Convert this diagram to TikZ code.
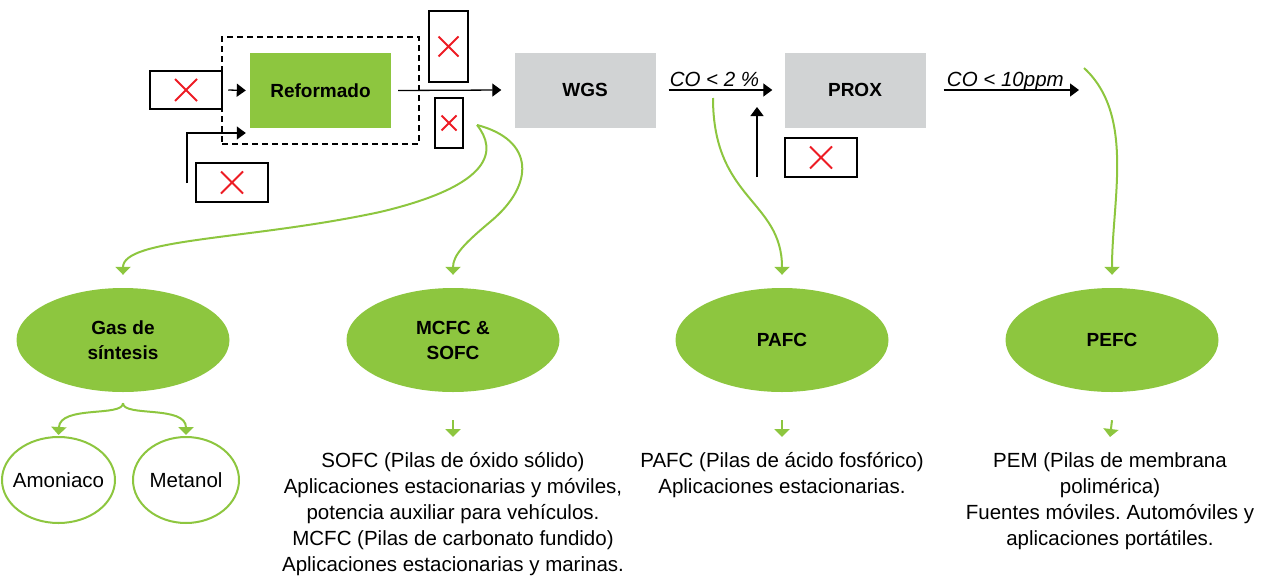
\documentclass[tikz,border=0pt]{standalone}
\usepackage{fontspec}
\setmainfont{Liberation Sans}
\usetikzlibrary{shapes.geometric,arrows.meta,positioning}
\definecolor{verde}{HTML}{8DC63F}
\definecolor{gris}{HTML}{D1D3D4}
\definecolor{rojo}{HTML}{ED1C24}
\frenchspacing

\begin{document}
\begin{tikzpicture}[
    x=1pt, y=-1pt, % pixel-like units, y going down
    flecha/.style={draw, line width=1.3pt, -{Triangle[length=9pt,width=13pt]}},
    verdeflecha/.style={draw=verde, line width=2pt, -{Triangle[length=8pt,width=15pt]}},
    proceso/.style={rectangle, fill=#1, minimum width=141pt, minimum height=75pt,
        inner sep=0pt, font=\fontsize{19}{23}\selectfont\bfseries},
    cruz/.style={draw, line width=2.5pt, inner sep=0pt, path picture={
        \draw[rojo, line width=2pt]
            ([shift={(-#1pt,-#1pt)}]path picture bounding box.center) --
            ([shift={(#1pt,#1pt)}]path picture bounding box.center)
            ([shift={(-#1pt,#1pt)}]path picture bounding box.center) --
            ([shift={(#1pt,-#1pt)}]path picture bounding box.center);}},
    pila/.style={ellipse, fill=verde, minimum width=213pt, minimum height=104pt,
        inner sep=0pt, align=center, font=\fontsize{19}{25}\selectfont\bfseries},
    producto/.style={ellipse, draw=verde, line width=2pt, fill=white, minimum height=86pt,
        inner ysep=0pt, inner xsep=-7pt, font=\fontsize{20.5}{25}\selectfont},
    texto/.style={anchor=north, inner sep=0pt, align=center, font=\fontsize{20.5}{26}\selectfont},
    etiqueta/.style={above=3pt, inner sep=0pt, text depth=0pt, font=\fontsize{20.5}{24}\selectfont\itshape}
]
\useasboundingbox (0,0) rectangle (1268,581);

% Process line
\node (zona) [draw, line width=1.3pt, dash pattern=on 6pt off 4pt, minimum width=197pt,
    minimum height=107pt] at (320.5,90.5) {};
\node (reform) [proceso=verde] at (320.5,90.5) {Reformado};
\node (wgs) [proceso=gris] at (585,90) {WGS};
\node (prox) [proceso=gris] at (855,90) {PROX};

\node (xin) [cruz=11, minimum width=72pt, minimum height=38pt] at (186,90) {};
\node (xbot) [cruz=11, minimum width=72pt, minimum height=39pt] at (232,182.5) {};
\node (xtop) [cruz=10, minimum width=39pt, minimum height=71pt] at (448.5,46.5) {};
\node (xsmall) [cruz=7.5, minimum width=28pt, minimum height=50pt] at (449,123) {};
\node (xprox) [cruz=11, minimum width=72pt, minimum height=39pt] at (821,157.5) {};

\coordinate (alim) at (187,183);
\coordinate (o2) at (757,177);
\coordinate (o2fin) at (757,107);
\coordinate (salida) at (1079,90);

\draw[flecha] ([xshift=5pt]xin.east) -- ([xshift=-4pt]reform.west);
\draw[flecha] (alim) |- ([xshift=-4pt,yshift=-42.5pt]reform.west);
\draw[flecha] ([xshift=7pt]reform.east) -- ([xshift=-13pt]wgs.west);
\draw[flecha] ([xshift=13pt]wgs.east) -- node[etiqueta, xshift=-6pt] {CO < 2 \%} ([xshift=-12pt]prox.west);
\draw[flecha] (o2) -- (o2fin);
\draw[flecha] ([xshift=18pt]prox.east) -- node[etiqueta, xshift=-6pt] {CO < 10ppm} (salida);

% Fuel cells
\node (gas) [pila] at (123,340) {Gas de\\síntesis};
\node (mcfc) [pila] at (453,340) {MCFC \&\\SOFC};
\node (pafc) [pila] at (782,340) {PAFC};
\node (pefc) [pila] at (1112,340) {PEFC};

\node (amon) [producto, minimum width=113pt] at (58.5,480) {Amoniaco};
\node (metan) [producto, minimum width=106pt] at (186,480) {Metanol};

\node (sofctxt) [texto] at (453,452) {SOFC (Pilas de óxido sólido)\\Aplicaciones estacionarias y móviles,\\potencia auxiliar para vehículos.\\MCFC (Pilas de carbonato fundido)\\Aplicaciones estacionarias y marinas.};
\node (pafctxt) [texto] at (782,452) {PAFC (Pilas de ácido fosfórico)\\Aplicaciones estacionarias.};
\node (pemtxt) [texto] at (1110,452) {PEM (Pilas de membrana\\polimérica)\\Fuentes móviles. Automóviles y\\aplicaciones portátiles.};

% Green links
\coordinate (gfork) at (477,125);
\coordinate (co2) at (713,98);
\coordinate (co10) at (1084,68);

\draw[verdeflecha] (gfork) .. controls (497,150) and (494,185) .. (380,212)
    .. controls (250,240) and (123,238) .. ([yshift=13pt]gas.north);
\draw[verdeflecha] (gfork) .. controls (535,140) and (535,185) .. (490,222)
    .. controls (465,243) and (453,255) .. ([yshift=13pt]mcfc.north);
\draw[verdeflecha] (co2) .. controls (713,200) and (782,200) .. ([yshift=13pt]pafc.north);
\draw[verdeflecha] (co10) .. controls (1135,115) and (1112,200) .. ([yshift=13pt]pefc.north);

\draw[verdeflecha] ([yshift=-11pt]gas.south) .. controls ([yshift=-25pt]gas.south) and (60,405) .. ([yshift=1pt]amon.north);
\draw[verdeflecha] ([yshift=-11pt]gas.south) .. controls ([yshift=-25pt]gas.south) and (186,405) .. ([yshift=1pt]metan.north);
\draw[verdeflecha] ([yshift=-28pt]mcfc.south) -- ([yshift=15pt]sofctxt.north);
\draw[verdeflecha] ([yshift=-28pt]pafc.south) -- ([yshift=15pt]pafctxt.north);
\draw[verdeflecha] ([yshift=-28pt]pefc.south) -- ([yshift=15pt]pemtxt.north);
\end{tikzpicture}
\end{document}
